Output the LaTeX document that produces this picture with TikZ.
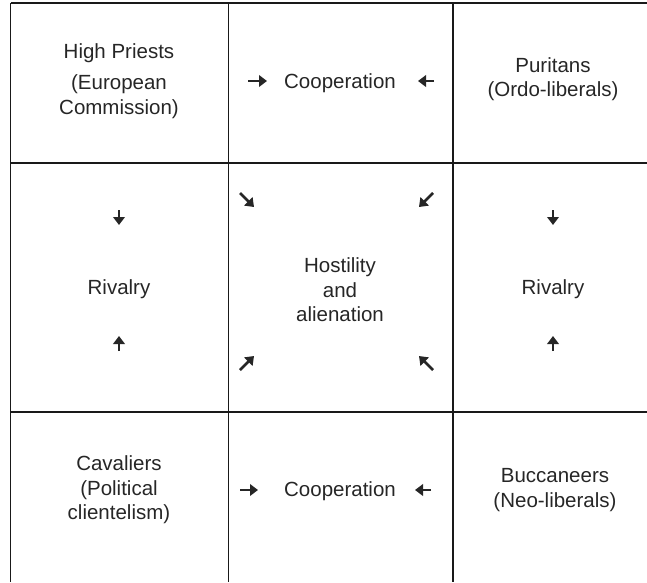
\documentclass[tikz,border=0pt]{standalone}
\usepackage{fontspec}
\setmainfont{Liberation Sans}
\usetikzlibrary{arrows.meta}
\definecolor{txt}{HTML}{262626}
\begin{document}
\begin{tikzpicture}[x=1pt,y=-1pt,
  lbl/.style={align=center,text=txt,font=\fontsize{20.5}{24.5}\selectfont,inner sep=0pt},
  grid/.style={line width=1.2pt,draw=black!90},
  arr/.style={line width=2.8pt,draw=txt,-{Triangle[length=8pt,width=11.5pt]}}]
\useasboundingbox (0,0) rectangle (647,582);
% grid
\draw[grid] (10.7,3) -- (647,3);
\draw[grid] (10.7,163) -- (647,163);
\draw[grid] (10.7,412) -- (647,412);
\draw[grid] (10.7,3) -- (10.7,582);
\draw[grid] (228.7,3) -- (228.7,582);
\draw[grid] (453,3) -- (453,582);
% texts
\node[lbl] (hp) at (119,81) {High Priests\\[7pt](European\\Commission)};
\node[lbl] (pu) at (553,79) {Puritans\\(Ordo-liberals)};
\node[lbl] (c1) at (340,83) {Cooperation};
\node[lbl] (r1) at (119,289) {Rivalry};
\node[lbl] (r2) at (553,289) {Rivalry};
\node[lbl] (ho) at (340,290) {Hostility\\and\\alienation};
\node[lbl] (ca) at (119,490) {Cavaliers\\(Political\\clientelism)};
\node[lbl] (bu) at (555,490) {Buccaneers\\(Neo-liberals)};
\node[lbl] (c2) at (340,491) {Cooperation};
% arrows
\draw[arr] (248,81) -- (267,81);
\draw[arr] (434,81) -- (418,81);
\draw[arr] (240,490) -- (258,490);
\draw[arr] (431,490) -- (415,490);
\draw[arr] (119,210) -- (119,225);
\draw[arr] (119,351) -- (119,336);
\draw[arr] (553,210) -- (553,225);
\draw[arr] (553,351) -- (553,336);
\draw[arr] (240,193) -- (254,207);
\draw[arr] (433,193) -- (419,207);
\draw[arr] (240,370) -- (254,356);
\draw[arr] (433,370) -- (419,356);
\end{tikzpicture}
\end{document}
